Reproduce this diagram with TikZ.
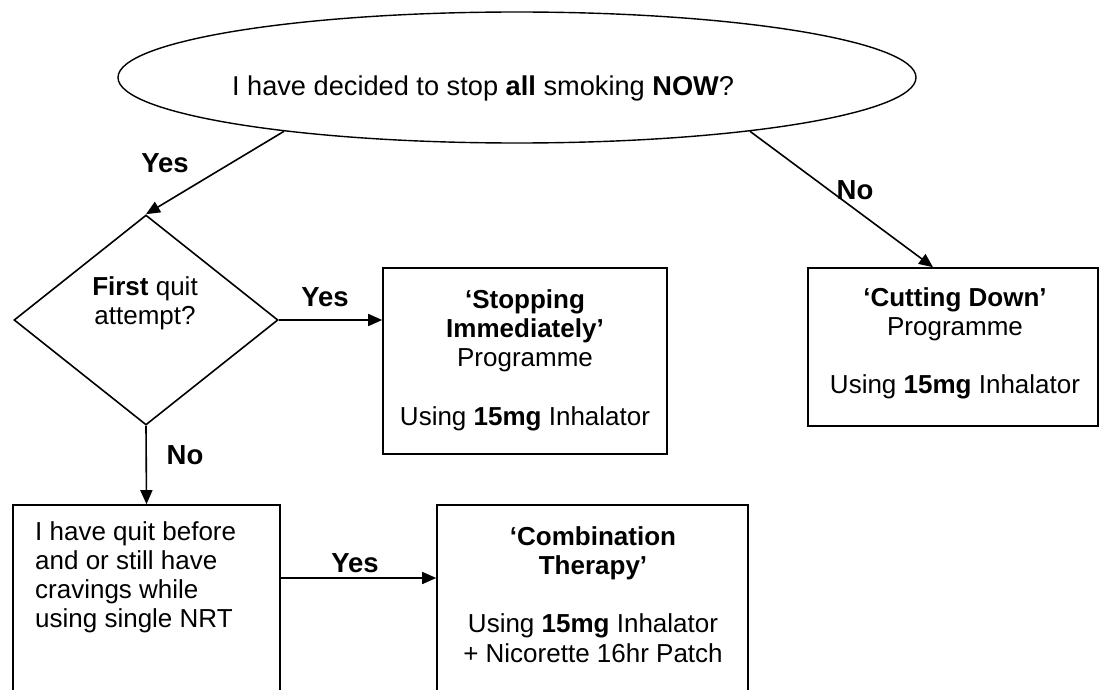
\documentclass[tikz,border=0pt]{standalone}
\usepackage{fontspec}
\setmainfont{Liberation Sans}
\usetikzlibrary{shapes.geometric,arrows.meta}
\tikzset{
  every node/.style={font=\fontsize{26}{29.3}\selectfont, inner sep=0pt},
  shapeline/.style={draw=black, line width=1.6pt},
  boxnode/.style={shapeline, rectangle},
  txt/.style={align=center, anchor=north},
  lbl/.style={font=\fontsize{27.5}{30}\selectfont\bfseries},
  arr/.style={line width=1.6pt, -{Triangle[length=14pt,width=12pt]}},
}
\begin{document}
\begin{tikzpicture}[x=1pt,y=-1pt]
\useasboundingbox (0,0) rectangle (1111,690);
\clip (0,0) rectangle (1111,690);
% question ellipse
\node[ellipse, draw=black, line width=1.4pt, minimum width=798pt, minimum height=131pt] (q) at (517,77.5) {};
\node[font=\fontsize{27.2}{30}\selectfont] (qt) at (483,88) {I have decided to stop \textbf{all} smoking \textbf{NOW}?};
% diamond
\node[diamond, shapeline, minimum width=264pt, minimum height=210pt] (d) at (146,320) {};
\node[align=center] (dt) at (145,303) {\textbf{First} quit\\attempt?};
% boxes
\node[boxnode, minimum width=284pt, minimum height=186pt] (sb) at (525,361) {};
\node[txt] (sbt) at (525,289) {\textbf{‘Stopping}\\\textbf{Immediately’}\\Programme\\[29.3pt]Using \textbf{15mg} Inhalator};
\node[boxnode, minimum width=290pt, minimum height=158pt] (cd) at (953,347) {};
\node[txt] (cdt) at (955,287) {\textbf{‘Cutting Down’}\\Programme\\[29.3pt]Using \textbf{15mg} Inhalator};
\node[boxnode, minimum width=267pt, minimum height=215pt] (lb) at (146.5,612.5) {};
\node[align=left, anchor=north west] (lbt) at (35,521) {I have quit before\\and or still have\\cravings while\\using single NRT};
\node[boxnode, minimum width=311pt, minimum height=215pt] (cb) at (592.5,612.5) {};
\node[txt] (cbt) at (593,526) {\textbf{‘Combination}\\\textbf{Therapy’}\\[29.3pt]Using \textbf{15mg} Inhalator\\+ Nicorette 16hr Patch};
% connectors
\draw[arr] (q.193) -- (d.north);
\draw[arr] (q.-13) -- ([xshift=-20pt]cd.north);
\draw[arr] (d.east) -- (d.east -| sb.west);
\draw[arr] (d.south) -- (lb.north);
\draw[arr] ([yshift=34.5pt]lb.east) -- ([yshift=34.5pt]lb.east -| cb.west);
% labels
\node[lbl] (l1) at (165,163) {Yes};
\node[lbl] (l2) at (855,190) {No};
\node[lbl] (l3) at (325,297) {Yes};
\node[lbl] (l4) at (185,455) {No};
\node[lbl] (l5) at (355,563) {Yes};
\end{tikzpicture}
\end{document}
